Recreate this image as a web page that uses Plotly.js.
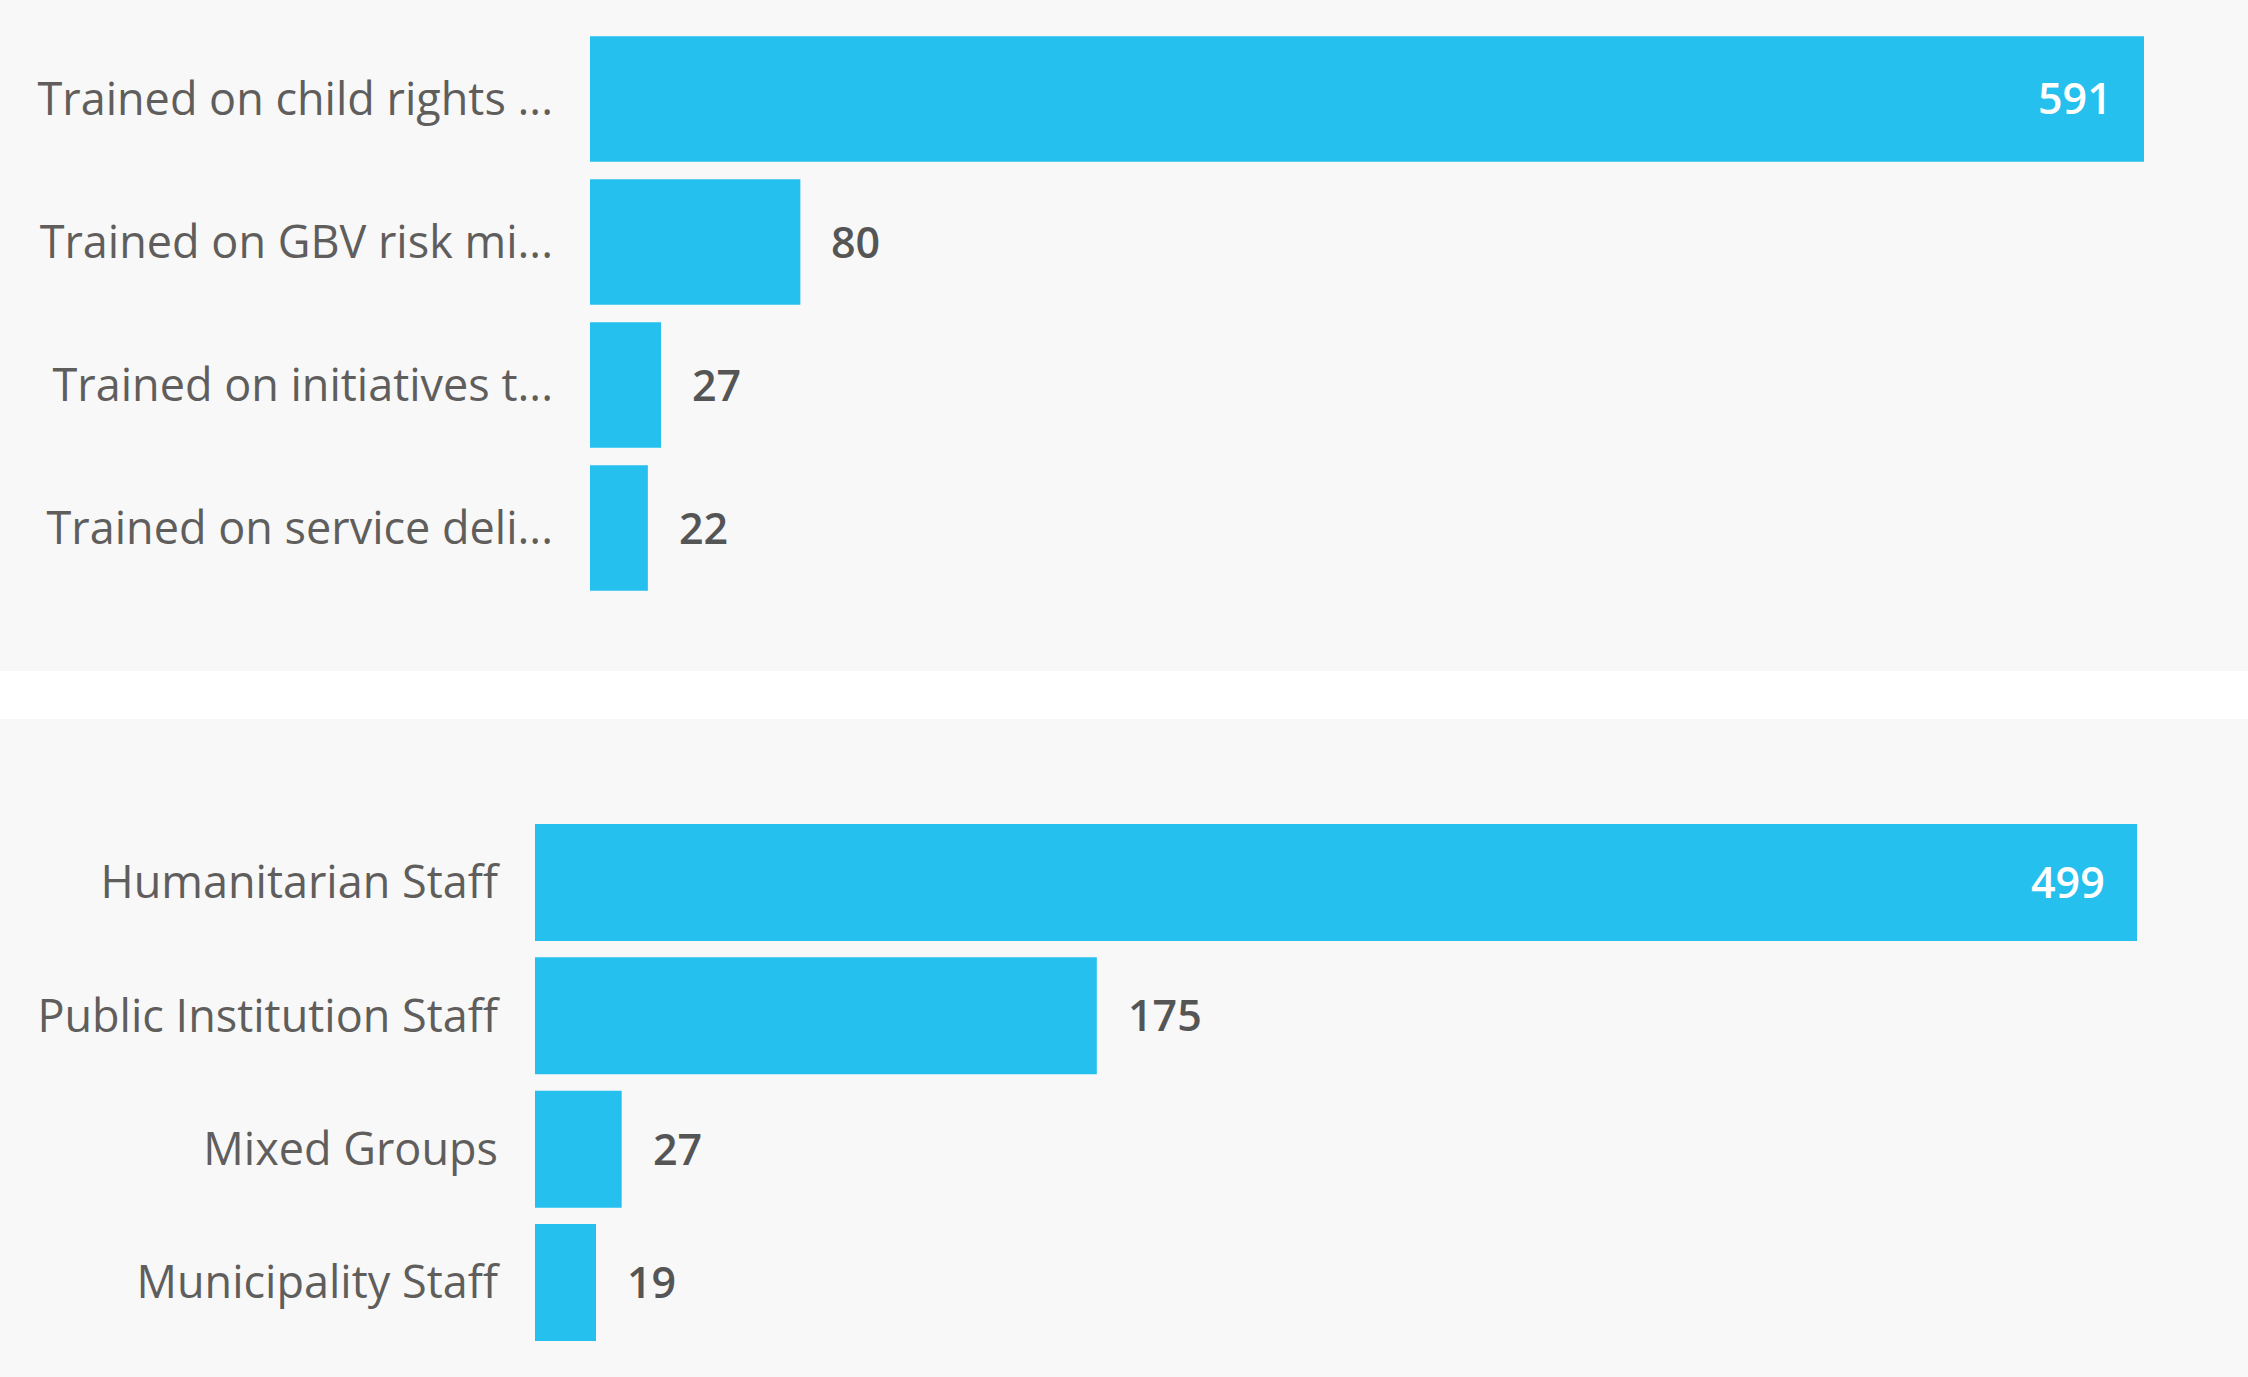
<!DOCTYPE html>
<html>
<head>
<meta charset="utf-8">
<script src="https://cdn.plot.ly/plotly-3.0.1.min.js"></script>
<style>
html,body{margin:0;padding:0;background:#ffffff;}
#chart{width:2248px;height:1377px;}
</style>
</head>
<body>
<div id="chart"></div>
<script>
// ---- data ----
const topCategories = ["Trained on child rights ...", "Trained on GBV risk mi...", "Trained on initiatives t...", "Trained on service deli..."];
const topValues = [591, 80, 27, 22];
const bottomCategories = ["Humanitarian Staff", "Public Institution Staff", "Mixed Groups", "Municipality Staff"];
const bottomValues = [499, 175, 27, 19];

// ---- styles ----
const W = 2248, H = 1377;
const barColor = "#25c0ee";
const panelColor = "#f8f8f8";
const labelColor = "#605e5c";
const valueColor = "#555555";
const fontFam = "'Open Sans', 'Noto Sans', sans-serif";

function px2fx(p){ return p / W; }
function px2fy(p){ return 1 - p / H; }

const topTrace = {
  type: "bar", orientation: "h",
  x: topValues, y: topCategories,
  xaxis: "x", yaxis: "y",
  marker: {color: barColor},
  hoverinfo: "x+y"
};
const bottomTrace = {
  type: "bar", orientation: "h",
  x: bottomValues, y: bottomCategories,
  xaxis: "x2", yaxis: "y2",
  marker: {color: barColor},
  hoverinfo: "x+y"
};

function valueAnnotations(cats, vals, xref, yref){
  const maxV = Math.max.apply(null, vals);
  return cats.map((c, i) => {
    const inside = vals[i] > 0.8 * maxV;
    return {
      xref: xref, yref: yref, x: vals[i], y: c,
      text: String(vals[i]),
      showarrow: false,
      xanchor: inside ? "right" : "left",
      yanchor: "middle",
      xshift: inside ? -30 : 29,
      yshift: 1,
      font: {family: fontFam, size: 43, color: inside ? "#ffffff" : valueColor, weight: 600}
    };
  });
}

const axisY = {
  type: "category",
  showgrid: false, zeroline: false, showline: false,
  ticks: "", ticklabelstandoff: 36,
  tickfont: {family: fontFam, size: 45, color: labelColor},
  fixedrange: true
};

const layout = {
  width: W, height: H,
  margin: {l: 0, r: 0, t: 0, b: 0},
  paper_bgcolor: "#ffffff",
  plot_bgcolor: "rgba(0,0,0,0)",
  showlegend: false,
  bargap: 0.123,
  font: {family: fontFam},
  xaxis: {
    domain: [px2fx(590), px2fx(2190)],
    range: [0, 1600 * 591 / 1554],
    visible: false, fixedrange: true
  },
  yaxis: Object.assign({}, axisY, {
    domain: [px2fy(599.5), px2fy(27.5)],
    range: [3.5, -0.5], autorange: false
  }),
  xaxis2: {
    domain: [px2fx(535), px2fx(2190)],
    range: [0, 1655 * 499 / 1602],
    visible: false, fixedrange: true, anchor: "y2"
  },
  yaxis2: Object.assign({}, axisY, {
    domain: [px2fy(1349.2), px2fy(815.8)],
    range: [3.5, -0.5], autorange: false, anchor: "x2"
  }),
  shapes: [
    {type: "rect", xref: "paper", yref: "paper", x0: 0, x1: 1, y0: px2fy(671), y1: 1,
     fillcolor: panelColor, line: {width: 0}, layer: "below"},
    {type: "rect", xref: "paper", yref: "paper", x0: 0, x1: 1, y0: 0, y1: px2fy(719),
     fillcolor: panelColor, line: {width: 0}, layer: "below"}
  ],
  annotations: valueAnnotations(topCategories, topValues, "x", "y")
    .concat(valueAnnotations(bottomCategories, bottomValues, "x2", "y2"))
};

Plotly.newPlot("chart", [topTrace, bottomTrace], layout, {displayModeBar: false, staticPlot: true});
</script>
</body>
</html>
